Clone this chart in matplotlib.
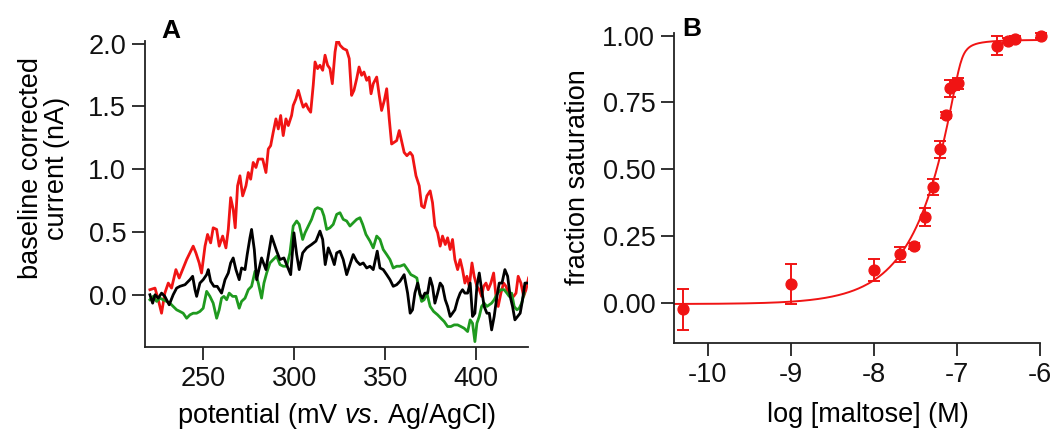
import numpy as np
import matplotlib
matplotlib.use("Agg")
import matplotlib.pyplot as plt

plt.rcParams['font.family'] = ['Liberation Sans', 'DejaVu Sans']
plt.rcParams['axes.unicode_minus'] = False
plt.rcParams['mathtext.fontset'] = 'custom'
plt.rcParams['mathtext.rm'] = 'Liberation Sans'
plt.rcParams['mathtext.it'] = 'Liberation Sans:italic'

# Panel A: baseline corrected voltammograms (mV, nA)
red_mv = [220.7, 223.5, 225.3, 227.1, 228.9, 230.8, 232.6, 235.0, 236.8, 239.0, 240.9, 242.7, 244.5, 246.0,
          247.8, 249.1, 251.0, 252.4, 254.1, 255.5, 257.4, 258.8, 260.7, 262.5, 263.8, 265.1, 266.5, 267.6,
          268.9, 270.2, 271.7, 273.5, 274.8, 276.1, 277.5, 279.0, 280.3, 282.7, 284.5, 285.8, 287.1, 288.5,
          290.0, 291.3, 292.6, 294.0, 295.5, 296.8, 298.6, 299.5, 301.0, 302.3, 304.1, 305.0, 306.5, 307.8,
          309.1, 310.5, 311.5, 312.9, 314.2, 315.7, 317.0, 318.4, 319.7, 321.0, 322.5, 323.7, 325.2, 327.0,
          328.9, 330.3, 331.6, 332.9, 334.4, 335.7, 337.1, 338.4, 339.9, 341.2, 342.3, 343.5, 345.4, 346.8,
          348.1, 349.6, 350.9, 352.3, 353.6, 354.9, 356.4, 357.8, 360.5, 362.0, 363.8, 365.1, 367.0, 368.8,
          370.1, 371.5, 373.0, 374.8, 376.1, 377.4, 378.9, 380.3, 381.6, 383.1, 384.4, 385.8, 387.1, 388.4,
          389.9, 391.3, 392.6, 393.9, 395.0, 396.3, 397.8, 399.0, 400.5, 401.8, 403.1, 404.2, 405.5, 406.7,
          408.2, 409.7, 411.0, 412.2, 413.7, 415.2, 416.5, 417.7, 419.2, 420.7, 422.0, 423.2, 424.7, 426.2,
          427.5, 428.9]
red_na = [0.04, 0.053, -0.04, -0.147, 0.013, 0.093, 0.053, 0.2, 0.133, 0.213, 0.28, 0.333, 0.387, 0.333,
          0.253, 0.173, 0.387, 0.48, 0.413, 0.533, 0.52, 0.387, 0.467, 0.373, 0.52, 0.773, 0.68, 0.533,
          0.867, 0.947, 0.787, 0.867, 0.973, 0.92, 1.053, 1.013, 1.08, 1.08, 0.973, 1.16, 1.187, 1.293,
          1.4, 1.32, 1.427, 1.267, 1.4, 1.347, 1.427, 1.507, 1.56, 1.627, 1.533, 1.493, 1.52, 1.48,
          1.453, 1.667, 1.853, 1.8, 1.827, 1.787, 1.907, 1.827, 1.8, 1.68, 1.933, 2.04, 1.987, 1.96,
          1.947, 1.88, 1.587, 1.627, 1.72, 1.813, 1.747, 1.773, 1.707, 1.733, 1.6, 1.68, 1.733, 1.587,
          1.467, 1.547, 1.64, 1.4, 1.2, 1.213, 1.227, 1.307, 1.133, 1.107, 1.133, 1.107, 0.947, 0.867,
          0.707, 0.693, 0.787, 0.827, 0.733, 0.547, 0.493, 0.387, 0.467, 0.4, 0.453, 0.36, 0.44, 0.28,
          0.2, 0.28, 0.2, 0.093, 0.147, 0.067, 0.253, 0.147, 0.067, 0.04, -0.013, 0.067, 0.093, 0.04,
          0.093, 0.173, -0.013, -0.093, 0.013, 0.093, 0.067, 0.013, -0.013, -0.013, 0.013, 0.147, 0.093, -0.013,
          0.04, 0.133]

green_mv = [220.7, 222.5, 224.4, 226.2, 228.0, 229.9, 231.7, 233.5, 235.4, 237.2, 239.0, 240.9, 242.7, 244.5,
            246.4, 248.2, 250.0, 251.9, 253.7, 255.5, 257.4, 258.8, 260.1, 261.4, 262.9, 264.3, 266.2, 268.0,
            269.8, 271.1, 273.0, 274.8, 276.6, 278.5, 280.3, 282.1, 283.4, 284.9, 286.7, 288.5, 290.4, 292.2,
            294.0, 295.9, 297.7, 299.5, 301.4, 302.8, 304.7, 306.0, 307.8, 309.6, 311.5, 312.9, 315.1, 316.4,
            317.9, 319.7, 321.5, 323.4, 325.2, 327.0, 328.9, 330.7, 332.5, 334.4, 336.2, 337.7, 339.5, 341.7,
            343.5, 345.4, 347.2, 349.0, 350.9, 352.7, 354.5, 356.4, 358.2, 360.5, 362.4, 364.2, 366.0, 367.5,
            368.8, 370.1, 371.5, 373.0, 374.8, 376.7, 378.9, 380.7, 382.5, 384.4, 386.2, 388.0, 389.9, 391.7,
            393.5, 395.4, 396.8, 398.1, 399.4, 400.5, 401.8, 403.1, 404.5, 406.0, 407.3, 408.6, 410.0, 411.9,
            413.7, 415.5, 417.0, 418.3, 419.6, 421.0, 422.5, 423.8, 425.1, 426.5]
green_na = [-0.04, -0.013, -0.053, -0.027, -0.04, -0.053, -0.067, -0.093, -0.12, -0.133, -0.147, -0.187, -0.16, -0.147,
            -0.147, -0.133, -0.107, 0.027, -0.013, -0.067, -0.187, -0.12, -0.027, -0.013, -0.04, 0.013, -0.013, -0.013,
            -0.107, -0.053, -0.027, 0.04, 0.067, 0.187, 0.093, -0.027, 0.093, 0.173, 0.253, 0.28, 0.307, 0.24,
            0.227, 0.227, 0.333, 0.547, 0.587, 0.56, 0.44, 0.493, 0.547, 0.6, 0.68, 0.693, 0.68, 0.627,
            0.52, 0.533, 0.56, 0.64, 0.653, 0.6, 0.587, 0.547, 0.573, 0.6, 0.613, 0.56, 0.48, 0.427,
            0.373, 0.467, 0.44, 0.36, 0.32, 0.28, 0.213, 0.227, 0.227, 0.24, 0.2, 0.16, 0.147, 0.133,
            0.027, -0.053, -0.04, 0.013, -0.093, -0.133, -0.16, -0.187, -0.213, -0.253, -0.253, -0.24, -0.24, -0.253,
            -0.267, -0.293, -0.2, -0.227, -0.373, -0.227, -0.173, -0.093, -0.067, -0.093, -0.08, -0.067, -0.04, 0.013,
            0.04, 0.04, 0.013, -0.013, 0.013, -0.093, -0.12, -0.107, -0.067, 0.013]

black_mv = [220.7, 222.2, 223.5, 225.3, 227.1, 228.9, 231.3, 233.5, 235.4, 237.2, 240.0, 242.7, 244.2, 245.5,
            246.4, 248.2, 250.0, 251.9, 252.8, 254.1, 255.9, 257.7, 260.1, 262.0, 263.8, 265.1, 266.5, 268.0,
            269.8, 271.1, 273.0, 274.2, 275.7, 276.6, 278.1, 279.4, 282.1, 284.5, 287.6, 289.5, 290.4, 292.2,
            294.4, 295.9, 298.1, 299.9, 301.4, 302.8, 304.7, 306.9, 309.6, 312.0, 314.2, 315.7, 317.1, 318.8,
            320.6, 322.1, 323.4, 325.2, 327.0, 328.9, 330.7, 332.5, 334.4, 336.2, 338.0, 339.9, 341.7, 343.5,
            345.7, 347.2, 349.0, 350.9, 352.7, 354.5, 356.4, 358.2, 360.5, 362.4, 363.8, 365.1, 366.4, 367.9,
            369.3, 370.6, 371.9, 373.4, 374.8, 376.1, 377.4, 378.9, 380.3, 381.6, 383.1, 384.4, 385.8, 387.1,
            388.4, 389.9, 391.3, 392.6, 393.9, 395.4, 396.8, 398.1, 399.4, 400.5, 401.8, 403.1, 404.5, 406.0,
            407.3, 408.6, 410.0, 411.5, 412.8, 414.3, 415.9, 417.4, 418.8, 420.1, 421.4, 422.9, 424.3, 425.6,
            426.9, 428.0]
black_na = [0.0, -0.067, 0.0, -0.027, 0.013, -0.013, -0.08, 0.0, 0.053, 0.067, 0.08, 0.12, 0.147, 0.04,
            -0.013, 0.093, 0.12, 0.16, 0.2, 0.107, 0.067, 0.067, 0.013, 0.12, 0.173, 0.253, 0.293, 0.2,
            0.12, 0.213, 0.2, 0.32, 0.453, 0.52, 0.36, 0.12, 0.293, 0.2, 0.467, 0.387, 0.347, 0.28,
            0.293, 0.24, 0.16, 0.493, 0.32, 0.2, 0.333, 0.373, 0.4, 0.427, 0.507, 0.44, 0.24, 0.373,
            0.307, 0.24, 0.333, 0.347, 0.28, 0.16, 0.24, 0.32, 0.267, 0.24, 0.253, 0.213, 0.227, 0.2,
            0.347, 0.213, 0.2, 0.16, 0.12, 0.067, 0.08, 0.107, 0.16, 0.013, -0.147, -0.12, 0.013, 0.093,
            0.0, -0.027, 0.013, 0.013, 0.133, 0.067, -0.067, 0.013, 0.093, 0.067, -0.04, -0.093, -0.173, -0.147,
            -0.12, -0.04, 0.013, 0.04, 0.013, 0.013, 0.093, -0.173, -0.147, 0.067, 0.173, 0.04, -0.093, -0.147,
            -0.147, -0.28, -0.173, -0.013, 0.093, 0.093, 0.2, 0.147, -0.013, -0.093, -0.2, -0.173, -0.147, -0.04,
            0.093, 0.093]

# Panel B: titration (log M, fraction saturation, error)
log_maltose = [-10.30, -9.00, -8.00, -7.685, -7.513, -7.385, -7.285, -7.208, -7.136, -7.089, -7.034, -6.986,
               -6.52, -6.39, -6.30, -5.99]
frac_sat = [-0.025, 0.069, 0.122, 0.182, 0.212, 0.322, 0.434, 0.574, 0.703, 0.803, 0.815, 0.822,
            0.963, 0.981, 0.988, 1.0]
frac_err = [0.077, 0.075, 0.04, 0.028, 0.01, 0.034, 0.031, 0.032, 0.01, 0.032, 0.02, 0.02,
            0.036, 0.01, 0.01, 0.01]

# fit parameters (quadratic binding, nM)
fit_protein = 110.0
fit_kd = 1.0
fit_bottom = -0.005
fit_top = 0.985

RED = '#f01414'
GREEN = '#1f9a1f'
AXC = '#222222'
FS = 19.5

fig = plt.figure(figsize=(10.55, 4.32), dpi=100)


def style_axes(ax):
    for s in ['top', 'right']:
        ax.spines[s].set_visible(False)
    for s in ['left', 'bottom']:
        ax.spines[s].set_linewidth(1.3)
        ax.spines[s].set_color(AXC)
        ax.spines[s].set_clip_on(False)
    ax.tick_params(direction='out', length=9.5, width=1.3, color=AXC,
                   labelsize=FS, labelcolor='#111111', pad=4)


axA = fig.add_axes([145 / 1055, 1 - 347 / 432, 383 / 1055, 306 / 432])
axA.plot(red_mv, red_na, color=RED, lw=2.0)
axA.plot(green_mv, green_na, color=GREEN, lw=2.0)
axA.plot(black_mv, black_na, color='black', lw=2.0)
axA.set_xlim(218, 428.6)
axA.set_ylim(-0.416, 2.02)
axA.set_xticks([250, 300, 350, 400])
axA.set_yticks([0, 0.5, 1.0, 1.5, 2.0])
axA.set_yticklabels(['0.0', '0.5', '1.0', '1.5', '2.0'])
style_axes(axA)

axB = fig.add_axes([674 / 1055, 1 - 343.3 / 432, 366 / 1055, 310 / 432])
xs = np.linspace(-10.4, -6.0, 400)
lig = 10 ** (xs + 9)
s = fit_protein + lig + fit_kd
f = (s - np.sqrt(s ** 2 - 4 * fit_protein * lig)) / (2 * fit_protein)
axB.plot(xs, fit_bottom + (fit_top - fit_bottom) * f, color=RED, lw=1.4)
axB.errorbar(log_maltose, frac_sat, yerr=frac_err, fmt='o', color=RED, ms=7.8,
             elinewidth=1.4, capsize=4.5, capthick=1.4, clip_on=False)
axB.set_xlim(-10.405, -6.0)
axB.set_ylim(-0.152, 1.009)
axB.set_xticks([-10, -9, -8, -7, -6])
axB.set_xticklabels(['-10', '-9', '-8', '-7', '-6'])
axB.set_yticks([0, 0.25, 0.5, 0.75, 1.0])
axB.set_yticklabels(['0.00', '0.25', '0.50', '0.75', '1.00'])
style_axes(axB)

# labels
fig.text(44 / 1055, 1 - 168 / 432, 'baseline corrected\ncurrent (nA)', rotation=90,
         ha='center', va='center', multialignment='center', fontsize=FS, linespacing=1.0)
fig.text(337 / 1055, 1 - 416 / 432, r'potential (mV $\it{vs.}\,$Ag/AgCl)',
         ha='center', va='center', fontsize=FS)
fig.text(578 / 1055, 1 - 177 / 432, 'fraction saturation', rotation=90,
         ha='center', va='center', fontsize=FS)
fig.text(868 / 1055, 1 - 415 / 432, 'log [maltose] (M)', ha='center', va='center', fontsize=FS)
fig.text(161 / 1055, 1 - 31 / 432, 'A', ha='left', va='center', fontsize=19, fontweight='bold')
fig.text(682 / 1055, 1 - 29 / 432, 'B', ha='left', va='center', fontsize=19, fontweight='bold')

fig.savefig('out.png', dpi=100)
